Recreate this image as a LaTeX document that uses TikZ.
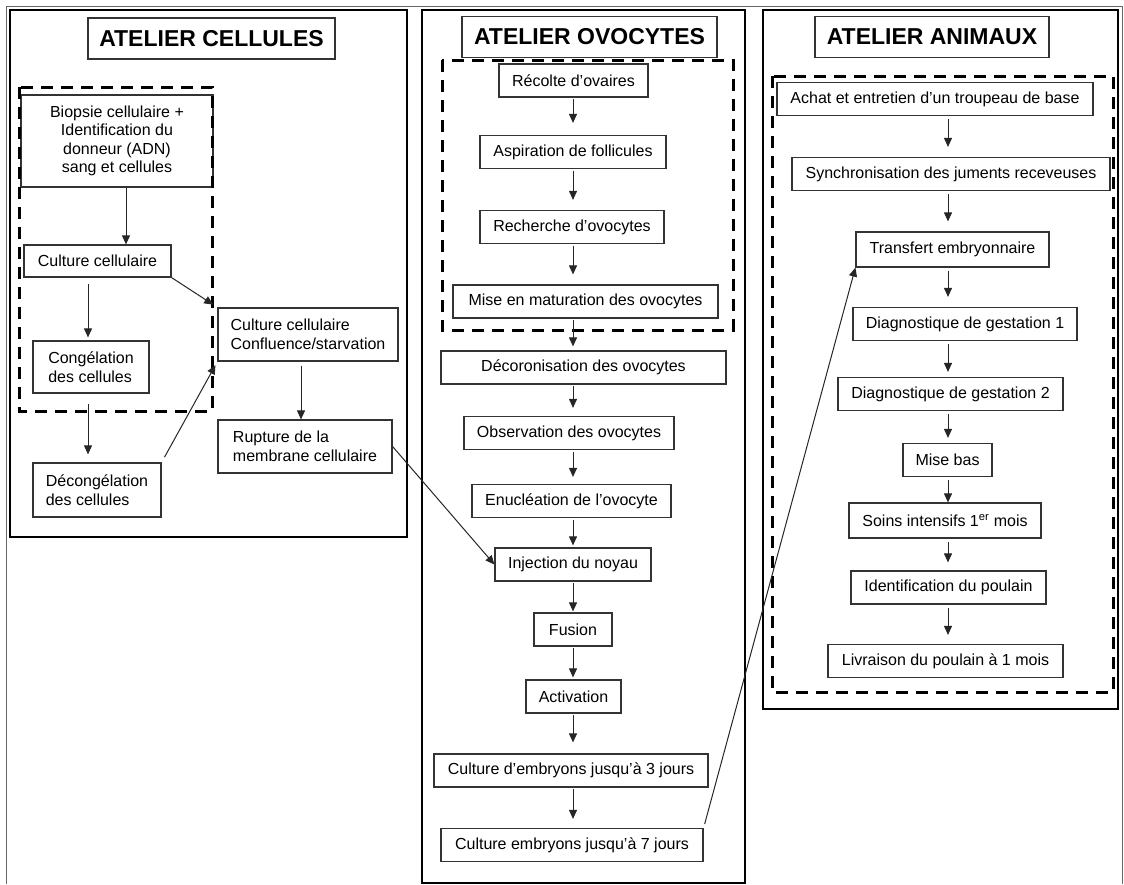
\documentclass[tikz,border=0pt]{standalone}
\usepackage{fontspec}
\setmainfont{Liberation Sans}
\usetikzlibrary{calc}
\usetikzlibrary{arrows.meta}

\tikzset{
    etape/.style = {draw=black!80, line width=1.2pt, inner sep=0pt, minimum height=33pt,
        font=\fontsize{16}{18.5}\selectfont, align=center},
    titre/.style = {draw=black!80, line width=1.4pt, inner sep=0pt, minimum height=41pt,
        font=\fontsize{23}{26}\selectfont\bfseries},
    atelier/.style = {draw=black, line width=1.8pt},
    zone/.style = {draw=black, line width=3pt, dash pattern=on 12pt off 8pt},
    fleche/.style = {-{Triangle[width=8pt,length=9pt]}, line width=1pt, draw=black!85},
}

\begin{document}
\begin{tikzpicture}[x=1pt, y=-1pt]
    \useasboundingbox (0,0) rectangle (1124,884);
    \draw[line width=0.8pt, black!60] (6,884) -- (6,6) -- (1122,6) -- (1122,884);

    \draw[atelier] (10,10) rectangle (407,537);
    \draw[atelier] (422,10) rectangle (745,883);
    \draw[atelier] (763,10) rectangle (1118,709);

    \node[titre, minimum width=247pt] (tcel) at (211.5,38.5) {ATELIER CELLULES};
    \node[titre, minimum width=255pt] (tovo) at (589.5,37) {ATELIER OVOCYTES};
    \node[titre, minimum width=234pt] (tani) at (932,37) {ATELIER ANIMAUX};

    \node[etape, minimum width=192pt, minimum height=92pt] (biopsie) at (117,141)
        {Biopsie cellulaire +\\Identification du\\donneur (ADN)\\sang et cellules};
    \node[etape, minimum width=147pt, minimum height=32pt] (culture) at (97.5,261) {Culture cellulaire};
    \node[etape, align=left, minimum width=116pt, minimum height=52pt] (congel) at (91,367)
        {Congélation\\des cellules};
    \node[etape, align=left, minimum width=128pt, minimum height=54pt] (decongel) at (97,490)
        {Décongélation\\des cellules};
    \node[etape, align=left, minimum width=180pt, minimum height=53pt] (confl) at (308,334.5)
        {Culture cellulaire\\Confluence/starvation};
    \node[etape, align=left, minimum width=174pt, minimum height=53pt] (rupture) at (305,446.5)
        {Rupture de la\\membrane cellulaire};

    \node[etape, minimum width=149pt] (recolte) at (573.5,80.5) {Récolte d'ovaires};
    \node[etape, minimum width=186pt] (aspiration) at (573,152) {Aspiration de follicules};
    \node[etape, minimum width=184pt] (recherche) at (572,227) {Recherche d'ovocytes};
    \node[etape, minimum width=265pt] (maturation) at (585.5,301.5) {Mise en maturation des ovocytes};
    \node[etape, minimum width=285pt] (decoron) at (583.5,367.5) {Décoronisation des ovocytes};
    \node[etape, minimum width=210pt] (observation) at (569,433) {Observation des ovocytes};
    \node[etape, minimum width=199pt] (enucleation) at (571.5,501) {Enucléation de l'ovocyte};
    \node[etape, minimum width=156pt] (injection) at (573,564.5) {Injection du noyau};
    \node[etape, minimum width=78pt] (fusion) at (573,629.5) {Fusion};
    \node[etape, minimum width=95pt] (activation) at (573.5,696.5) {Activation};
    \node[etape, minimum width=274pt] (cultA) at (571,770.5) {Culture d'embryons jusqu'à 3 jours};
    \node[etape, minimum width=262pt] (cultB) at (572,845) {Culture embryons jusqu'à 7 jours};

    \node[etape, minimum width=316pt] (achat) at (935,99) {Achat et entretien d'un troupeau de base};
    \node[etape, minimum width=318pt] (synchro) at (951,174) {Synchronisation des juments receveuses};
    \node[etape, minimum width=193pt, minimum height=35pt] (transfert) at (952.5,249.5) {Transfert embryonnaire};
    \node[etape, minimum width=224pt] (diagA) at (965,324) {Diagnostique de gestation 1};
    \node[etape, minimum width=225pt] (diagB) at (950.5,394) {Diagnostique de gestation 2};
    \node[etape, minimum width=89pt] (misebas) at (947.5,460) {Mise bas};
    \node[etape, minimum width=192pt, minimum height=35pt] (soins) at (945,520.5)
        {Soins intensifs 1\textsuperscript{er} mois};
    \node[etape, minimum width=195pt] (ident) at (948.5,587.5) {Identification du poulain};
    \node[etape, minimum width=235pt] (livraison) at (945.5,661) {Livraison du poulain à 1 mois};

    \draw[zone] (19,87) rectangle (212,411);
    \draw[zone] (442,60) rectangle (733,330);
    \draw[zone] (772,76) rectangle (1113,692);

    \coordinate (bx) at (126,0);
    \coordinate (cx) at (88,0);
    \coordinate (rx) at (301,0);
    \coordinate (ovx) at (573,0);
    \coordinate (anx) at (948,0);

    \draw[fleche] (biopsie.south -| bx) -- (culture.north -| bx);
    \draw[fleche, shorten <=6pt, shorten >=3pt] (culture.south -| cx) -- (congel.north -| cx);
    \draw[fleche, shorten <=10pt, shorten >=8pt] (congel.south -| cx) -- (decongel.north -| cx);
    \draw[fleche, shorten <=4pt] (confl.south -| rx) -- (rupture.north -| rx);

    \foreach \a/\b/\g in {recolte/aspiration/12, aspiration/recherche/10, recherche/maturation/10,
        maturation/decoron/4, decoron/observation/8, observation/enucleation/7,
        enucleation/injection/2, injection/fusion/1, fusion/activation/2,
        activation/cultA/11, cultA/cultB/9}{
        \draw[fleche, shorten <=1.5pt, shorten >=\g pt] (\a.south -| ovx) -- (\b.north -| ovx);
    }

    \foreach \a/\b/\g in {achat/synchro/10, synchro/transfert/10, transfert/diagA/10,
        diagA/diagB/5, diagB/misebas/5, misebas/soins/0, soins/ident/8, ident/livraison/9}{
        \draw[fleche, shorten <=3pt, shorten >=\g pt] (\a.south -| anx) -- (\b.north -| anx);
    }

    \draw[fleche, shorten >=5pt] (culture.south east) -- (confl.north west);
    \draw[fleche, shorten <=6pt, shorten >=4pt] (decongel.north east) -- (confl.south west);
    \draw[fleche] (rupture.east) -- (injection.west);
    \draw[fleche, shorten <=4pt] (cultB.north east) -- (transfert.south west);
\end{tikzpicture}
\end{document}
